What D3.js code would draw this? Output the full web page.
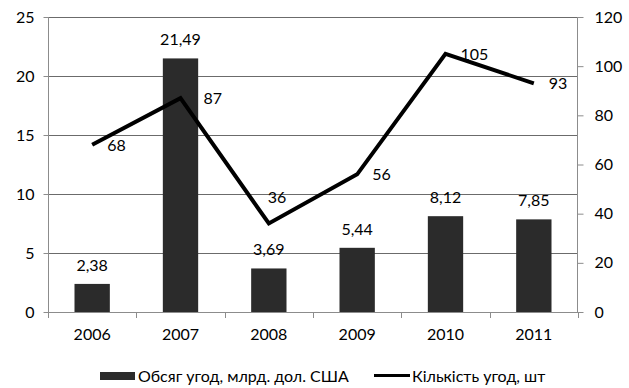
<!DOCTYPE html>
<html><head><meta charset="utf-8">
<script src="https://cdn.jsdelivr.net/npm/d3@7"></script>
<style>
html,body{margin:0;padding:0;background:#fff;}
svg{display:block;font-family:Lato,"Open Sans",sans-serif;}
</style></head>
<body><svg id="c" width="629" height="388"></svg>
<script>
const years = ["2006","2007","2008","2009","2010","2011"];
const volume = [2.38, 21.49, 3.69, 5.44, 8.12, 7.85];
const volumeLabels = ["2,38","21,49","3,69","5,44","8,12","7,85"];
const deals = [68, 87, 36, 56, 105, 93];
const leftTicks = [0,5,10,15,20,25];
const rightTicks = [0,20,40,60,80,100,120];
const seriesNames = ["Обсяг угод, млрд. дол. США", "Кількість угод, шт"];

const svg = d3.select("#c");
const m = {l:48, r:578, t:17, b:312};
const x = d3.scaleBand().domain(years).range([m.l, m.r]).paddingInner(0.6).paddingOuter(0.3);
const xb = d3.scaleBand().domain(years).range([m.l, m.r]);
const yL = d3.scaleLinear().domain([0,25]).range([m.b, m.t]);
const yR = d3.scaleLinear().domain([0,120]).range([m.b, m.t]);
const fs = 16;
const txtCol = "#000";
const axisCol = "#8c8c8c";

// gridlines
svg.append("g").selectAll("line").data(leftTicks.slice(1)).join("line")
  .attr("x1", m.l).attr("x2", m.r).attr("y1", d=>yL(d)+0.5).attr("y2", d=>yL(d)+0.5)
  .attr("stroke", "#6b6b6b").attr("stroke-width", 1);

// bars
svg.append("g").selectAll("rect").data(volume).join("rect")
  .attr("x", (d,i)=>x(years[i])).attr("width", x.bandwidth())
  .attr("y", d=>yL(d)).attr("height", d=>m.b - yL(d))
  .attr("fill", "#2b2b2b");

// bar labels
svg.append("g").selectAll("text").data(volume).join("text")
  .attr("x", (d,i)=>x(years[i]) + x.bandwidth()/2).attr("y", d=>yL(d) - 13)
  .attr("text-anchor","middle").attr("font-size", fs).attr("fill",txtCol)
  .text((d,i)=>volumeLabels[i]);

// axes
const axL = svg.append("g").attr("transform", `translate(${m.l+0.5},0)`)
  .call(d3.axisLeft(yL).tickValues(leftTicks).tickSize(5).tickPadding(9).tickFormat(d3.format("d")));
const axR = svg.append("g").attr("transform", `translate(${m.r-0.5},0)`)
  .call(d3.axisRight(yR).tickValues(rightTicks).tickSize(6).tickPadding(11).tickFormat(d3.format("d")));
const axB = svg.append("g").attr("transform", `translate(0,${m.b+0.5})`)
  .call(d3.axisBottom(xb).tickSize(0).tickPadding(16));
// bottom ticks at band boundaries
svg.append("g").selectAll("line").data(d3.range(years.length+1)).join("line")
  .attr("x1", i=>Math.round(m.l + i*xb.step())+0.5).attr("x2", i=>Math.round(m.l + i*xb.step())+0.5)
  .attr("y1", m.b).attr("y2", m.b+6).attr("stroke", axisCol);
[axL, axR, axB].forEach(a=>{
  a.select(".domain").attr("stroke", axisCol);
  a.selectAll(".tick line").attr("stroke", axisCol);
  a.selectAll("text").attr("font-size", fs).attr("font-family","Lato").attr("fill",txtCol);
});
axL.select(".domain").attr("d", `M0,${m.t}V${m.b}`);
axR.select(".domain").attr("d", `M0,${m.t}V${m.b}`);
axB.select(".domain").attr("d", `M${m.l},0H${m.r}`);

// line
const cx = i => xb(years[i]) + xb.bandwidth()/2;
svg.append("path").datum(deals)
  .attr("d", d3.line().x((d,i)=>cx(i)).y(d=>yR(d)))
  .attr("fill","none").attr("stroke","#000").attr("stroke-width",4).attr("stroke-linejoin","miter");

// line labels (placement tweaks by index)
const lblOff = {1:[23,0], 2:[-1,-27]};
svg.append("g").selectAll("text").data(deals).join("text")
  .attr("x", (d,i)=>cx(i) + (lblOff[i]?lblOff[i][0]:15))
  .attr("y", (d,i)=>yR(d) + (lblOff[i]?lblOff[i][1]:0) + 6)
  .attr("font-size", fs).attr("fill",txtCol).text(d=>d);

// legend
const lg = svg.append("g");
lg.append("rect").attr("x",100).attr("y",372).attr("width",35).attr("height",8).attr("fill","#2b2b2b");
lg.append("text").attr("x",138).attr("y",382).attr("font-size",fs).attr("fill",txtCol).text(seriesNames[0]);
lg.append("line").attr("x1",374).attr("x2",410).attr("y1",375.5).attr("y2",375.5).attr("stroke","#000").attr("stroke-width",3);
lg.append("text").attr("x",412).attr("y",382).attr("font-size",fs).attr("fill",txtCol).text(seriesNames[1]);
</script></body></html>
